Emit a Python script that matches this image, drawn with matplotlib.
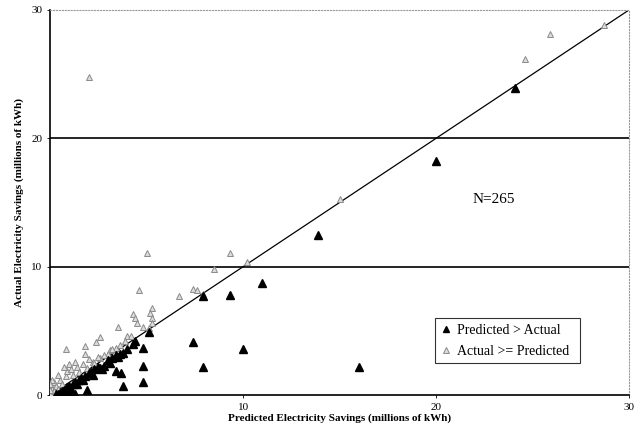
import matplotlib
matplotlib.use('Agg')
import matplotlib.pyplot as plt

# Predicted > Actual (filled black triangles)
pred_gt_x = [24.1, 20.0, 13.9, 11.0, 9.3, 10.0, 7.4, 7.9, 16.0, 7.9,
             4.8, 4.8, 4.8, 3.8, 3.4, 3.7, 1.9, 5.1, 4.4,
             4.3, 4.0, 3.8, 3.6, 3.4, 3.2, 3.0, 2.8, 2.6, 2.5, 2.3, 2.1, 2.0,
             1.8, 1.6, 1.5, 1.3, 1.2, 1.0, 0.9, 0.8, 0.7, 0.6, 0.5, 0.4, 0.3,
             1.1, 1.4, 1.7, 2.2, 2.7, 3.1, 3.5, 1.0, 1.3, 0.8, 1.2]
pred_gt_y = [23.9, 18.2, 12.5, 8.7, 7.8, 3.6, 4.1, 2.2, 2.2, 7.7,
             3.7, 2.3, 1.0, 0.7, 1.9, 1.7, 0.4, 4.9, 4.2,
             4.0, 3.6, 3.3, 3.2, 3.1, 2.9, 2.7, 2.3, 2.1, 2.2, 2.0, 1.8, 1.7,
             1.5, 1.3, 1.2, 1.0, 0.9, 0.7, 0.6, 0.5, 0.4, 0.3, 0.2, 0.1, 0.05,
             0.5, 0.9, 1.2, 1.6, 2.0, 2.5, 3.0, 0.2, 0.1, 0.05, 0.0]

# Actual >= Predicted (grey markers)
act_ge_x = [2.0, 28.7, 25.9, 24.6, 15.0, 5.0, 9.3, 10.2, 8.5, 6.7, 7.4, 7.6,
            7.9, 4.6, 4.3, 4.4, 4.5, 5.3, 5.2, 5.3, 5.3, 5.1, 3.5, 4.0, 2.6,
            2.4, 1.8, 0.8, 1.8, 3.1, 1.0, 2.2, 2.6, 3.0, 3.4, 0.15,
            0.1, 0.2, 0.3, 0.5, 0.6, 0.8, 0.9, 1.1, 1.2, 1.4, 1.5, 1.7, 1.9,
            2.0, 2.3, 2.5, 2.8, 3.2, 3.6, 3.9, 0.05, 0.2, 0.4, 0.0, 0.1, 0.7,
            0.4, 1.3, 4.2, 4.8, 0.0]
act_ge_y = [24.8, 28.8, 28.1, 26.2, 15.3, 11.1, 11.1, 10.4, 9.8, 7.7, 8.3, 8.2,
            7.9, 8.2, 6.3, 6.0, 5.6, 6.8, 6.4, 6.0, 5.6, 5.2, 5.3, 4.6, 4.5,
            4.1, 3.8, 3.6, 3.2, 3.5, 2.4, 2.6, 2.9, 3.2, 3.7, 0.9,
            0.5, 1.0, 0.7, 1.2, 0.9, 1.5, 1.9, 2.0, 1.6, 2.2, 1.8, 2.4, 2.1,
            2.8, 2.5, 3.0, 3.1, 3.6, 3.9, 4.2, 0.2, 0.3, 0.5, 0.4, 1.2, 2.2,
            1.6, 2.6, 4.6, 5.3, 0.9]

x_ticks = [10, 20, 30]
y_ticks = [0, 10, 20, 30]

serif = ['Liberation Serif', 'DejaVu Serif']

fig = plt.figure(figsize=(6.42, 4.29), dpi=100)
ax = fig.add_axes([0.078, 0.079, 0.902, 0.898])

ax.axhline(10, color='black', lw=1.2, zorder=1)
ax.axhline(20, color='black', lw=1.2, zorder=1)
ax.plot([0, 30], [0, 30], color='black', lw=0.9, zorder=2)

ax.plot(act_ge_x, act_ge_y, linestyle='none', marker='^', ms=5,
        mfc='#dcdcdc', mec='#8a8a8a', mew=0.7, zorder=3,
        label='Actual >= Predicted')
ax.plot(pred_gt_x, pred_gt_y, linestyle='none', marker='^', ms=6,
        mfc='black', mec='black', zorder=4, label='Predicted > Actual')

ax.set_xlim(0, 30)
ax.set_ylim(0, 30)
ax.set_xticks(x_ticks)
ax.set_yticks(y_ticks)
ax.tick_params(labelsize=8, length=2, width=0.6)
for lbl in ax.get_xticklabels() + ax.get_yticklabels():
    lbl.set_family(serif)

for side in ['top', 'right']:
    ax.spines[side].set_color('#9a9a9a')
    ax.spines[side].set_linestyle(':')
    ax.spines[side].set_linewidth(0.8)
ax.spines['left'].set_linewidth(1.2)
ax.spines['bottom'].set_linewidth(1.2)

ax.set_xlabel('Predicted Electricity Savings (millions of kWh)',
              family=serif, fontweight='bold', fontsize=8, labelpad=1)
ax.set_ylabel('Actual Electricity Savings (millions of kWh)',
              family=serif, fontweight='bold', fontsize=8, labelpad=5)

ax.text(23.0, 15.2, 'N=265', family=serif, fontsize=11, ha='center', va='center')

handles, labels = ax.get_legend_handles_labels()
leg = ax.legend(handles[::-1], labels[::-1], loc='lower left',
                bbox_to_anchor=(0.665, 0.083, 0.25, 0.137), mode='expand',
                prop={'family': serif, 'size': 10}, frameon=True, fancybox=False,
                edgecolor='black', handlelength=0.8, handletextpad=0.4,
                borderaxespad=0, labelspacing=0.55, markerscale=0.8)
leg.get_frame().set_linewidth(0.8)

fig.savefig('out.png', dpi=100)
